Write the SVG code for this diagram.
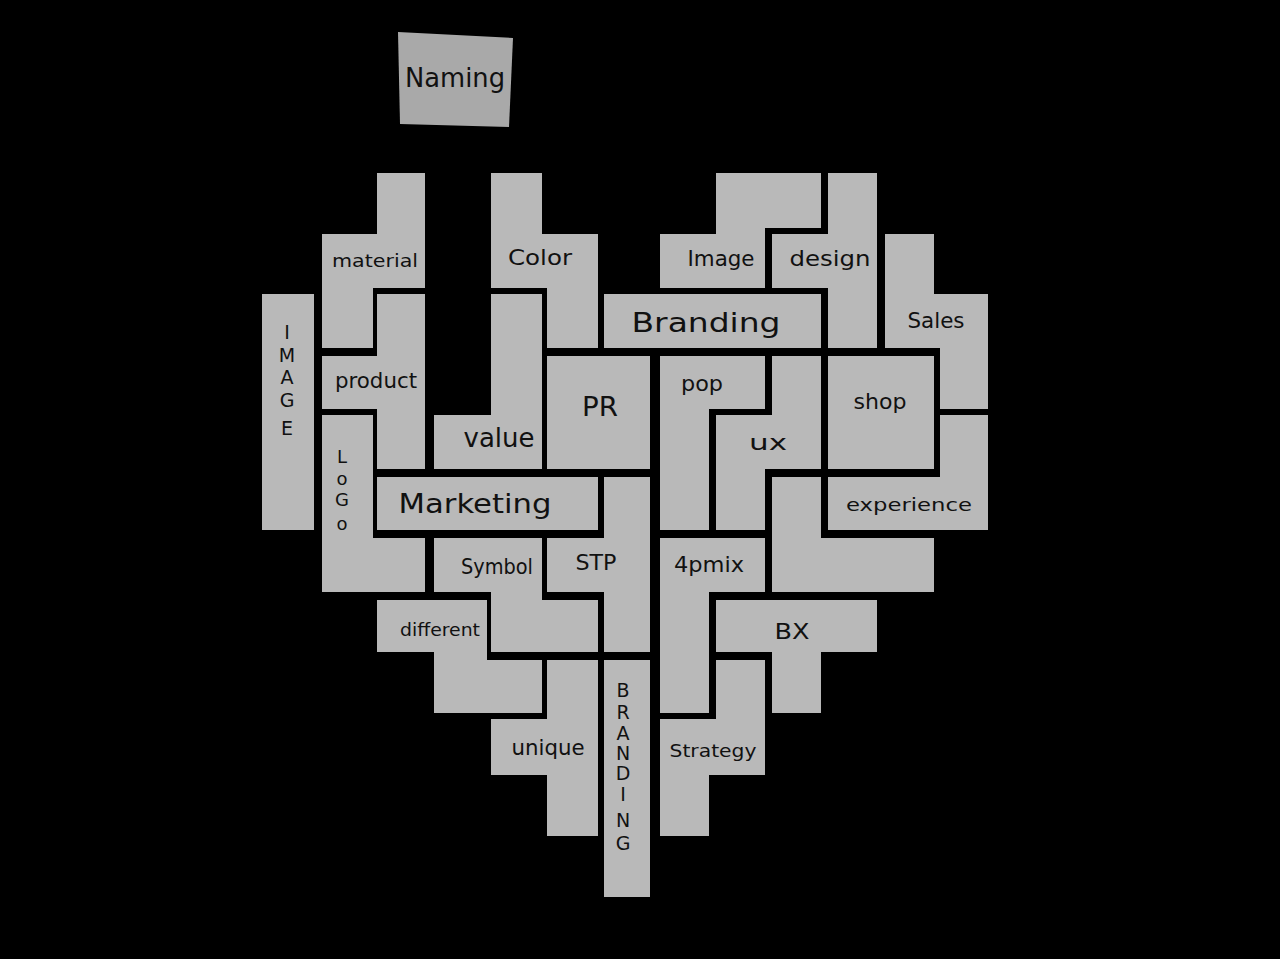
<svg xmlns="http://www.w3.org/2000/svg" width="1280" height="959" viewBox="0 0 1280 959">
<style>
.p{fill:#b9b9b9;stroke:none}
.n{fill:#a9a9a9}
.t{font-family:"DejaVu Sans","Liberation Sans",sans-serif;fill:#111;text-anchor:middle;dominant-baseline:central}
.s{font-size:18px}
.m{font-size:21px}
.l{font-size:26px}
.v{font-size:19px}
</style>
<rect width="1280" height="959" fill="#000"/>
<g id="naming"><polygon class="n" points="398,32 513,38 509,127 400,124"/><text class="t l" x="455" y="78" textLength="100" lengthAdjust="spacingAndGlyphs">Naming</text></g>
<g id="material"><polygon class="p" points="377,173 425,173 425,288 373,288 373,348 322,348 322,234 377,234"/><text class="t s" x="375" y="260" textLength="86" lengthAdjust="spacingAndGlyphs">material</text></g>
<g id="image-vertical"><rect class="p" x="262" y="294" width="52" height="236"/><text class="t v" x="287" y="332">I</text><text class="t v" x="287" y="355">M</text><text class="t v" x="287" y="377">A</text><text class="t v" x="287" y="400">G</text><text class="t v" x="287" y="428">E</text></g>
<g id="product"><polygon class="p" points="377,294 425,294 425,469 377,469 377,409 322,409 322,356 377,356"/><text class="t m" x="376" y="381" textLength="82" lengthAdjust="spacingAndGlyphs">product</text></g>
<g id="logo"><polygon class="p" points="322,415 373,415 373,538 425,538 425,592 322,592"/><text class="t s" x="342" y="456">L</text><text class="t s" x="342" y="478">o</text><text class="t s" x="342" y="499">G</text><text class="t s" x="342" y="523">o</text></g>
<g id="color"><polygon class="p" points="491,173 542,173 542,234 598,234 598,348 547,348 547,288 491,288"/><text class="t m" x="540" y="258" textLength="64" lengthAdjust="spacingAndGlyphs">Color</text></g>
<g id="value"><polygon class="p" points="491,294 542,294 542,469 434,469 434,415 491,415"/><text class="t l" x="499" y="438" textLength="71" lengthAdjust="spacingAndGlyphs">value</text></g>
<g id="marketing"><rect class="p" x="377" y="477" width="221" height="53"/><text class="t l" x="475" y="504" textLength="153" lengthAdjust="spacingAndGlyphs">Marketing</text></g>
<g id="pr"><rect class="p" x="547" y="356" width="103" height="113"/><text class="t l" x="600" y="407" textLength="36" lengthAdjust="spacingAndGlyphs">PR</text></g>
<g id="branding"><rect class="p" x="604" y="294" width="217" height="54"/><text class="t l" x="706" y="323" textLength="149" lengthAdjust="spacingAndGlyphs">Branding</text></g>
<g id="image"><polygon class="p" points="716,173 821,173 821,228 765,228 765,288 660,288 660,234 716,234"/><text class="t m" x="721" y="259" textLength="67" lengthAdjust="spacingAndGlyphs">Image</text></g>
<g id="design"><polygon class="p" points="828,173 877,173 877,348 828,348 828,288 772,288 772,234 828,234"/><text class="t m" x="830" y="259" textLength="81" lengthAdjust="spacingAndGlyphs">design</text></g>
<g id="sales"><polygon class="p" points="885,234 934,234 934,294 988,294 988,409 940,409 940,348 885,348"/><text class="t m" x="936" y="321" textLength="57" lengthAdjust="spacingAndGlyphs">Sales</text></g>
<g id="pop"><polygon class="p" points="660,356 765,356 765,409 709,409 709,530 660,530"/><text class="t m" x="702" y="384" textLength="42" lengthAdjust="spacingAndGlyphs">pop</text></g>
<g id="ux"><polygon class="p" points="772,356 821,356 821,469 765,469 765,530 716,530 716,415 772,415"/><text class="t m" x="768" y="443" textLength="38" lengthAdjust="spacingAndGlyphs">ux</text></g>
<g id="shop"><rect class="p" x="828" y="356" width="106" height="113"/><text class="t m" x="880" y="402" textLength="53" lengthAdjust="spacingAndGlyphs">shop</text></g>
<g id="experience"><polygon class="p" points="940,415 988,415 988,530 828,530 828,477 940,477"/><text class="t s" x="909" y="504" textLength="126" lengthAdjust="spacingAndGlyphs">experience</text></g>
<g id="blank"><polygon class="p" points="772,477 821,477 821,538 934,538 934,592 772,592"/></g>
<g id="stp"><polygon class="p" points="604,477 650,477 650,652 604,652 604,592 547,592 547,538 604,538"/><text class="t m" x="596" y="563" textLength="41" lengthAdjust="spacingAndGlyphs">STP</text></g>
<g id="symbol"><polygon class="p" points="434,538 542,538 542,600 598,600 598,652 491,652 491,592 434,592"/><text class="t m" x="497" y="567" textLength="72" lengthAdjust="spacingAndGlyphs">Symbol</text></g>
<g id="different"><polygon class="p" points="377,600 487,600 487,660 542,660 542,713 434,713 434,652 377,652"/><text class="t s" x="440" y="629" textLength="80" lengthAdjust="spacingAndGlyphs">different</text></g>
<g id="fourpmix"><polygon class="p" points="660,538 765,538 765,592 709,592 709,713 660,713"/><text class="t m" x="709" y="565" textLength="70" lengthAdjust="spacingAndGlyphs">4pmix</text></g>
<g id="bx"><polygon class="p" points="716,600 877,600 877,652 821,652 821,713 772,713 772,652 716,652"/><text class="t m" x="792" y="632" textLength="35" lengthAdjust="spacingAndGlyphs">BX</text></g>
<g id="unique"><polygon class="p" points="547,660 598,660 598,836 547,836 547,775 491,775 491,719 547,719"/><text class="t m" x="548" y="748" textLength="73" lengthAdjust="spacingAndGlyphs">unique</text></g>
<g id="strategy"><polygon class="p" points="716,660 765,660 765,775 709,775 709,836 660,836 660,719 716,719"/><text class="t s" x="713" y="750" textLength="87" lengthAdjust="spacingAndGlyphs">Strategy</text></g>
<g id="branding-vertical"><rect class="p" x="604" y="660" width="46" height="237"/><text class="t v" x="623" y="690">B</text><text class="t v" x="623" y="712">R</text><text class="t v" x="623" y="733">A</text><text class="t v" x="623" y="753">N</text><text class="t v" x="623" y="773">D</text><text class="t v" x="623" y="794">I</text><text class="t v" x="623" y="820">N</text><text class="t v" x="623" y="843">G</text></g>
</svg>
